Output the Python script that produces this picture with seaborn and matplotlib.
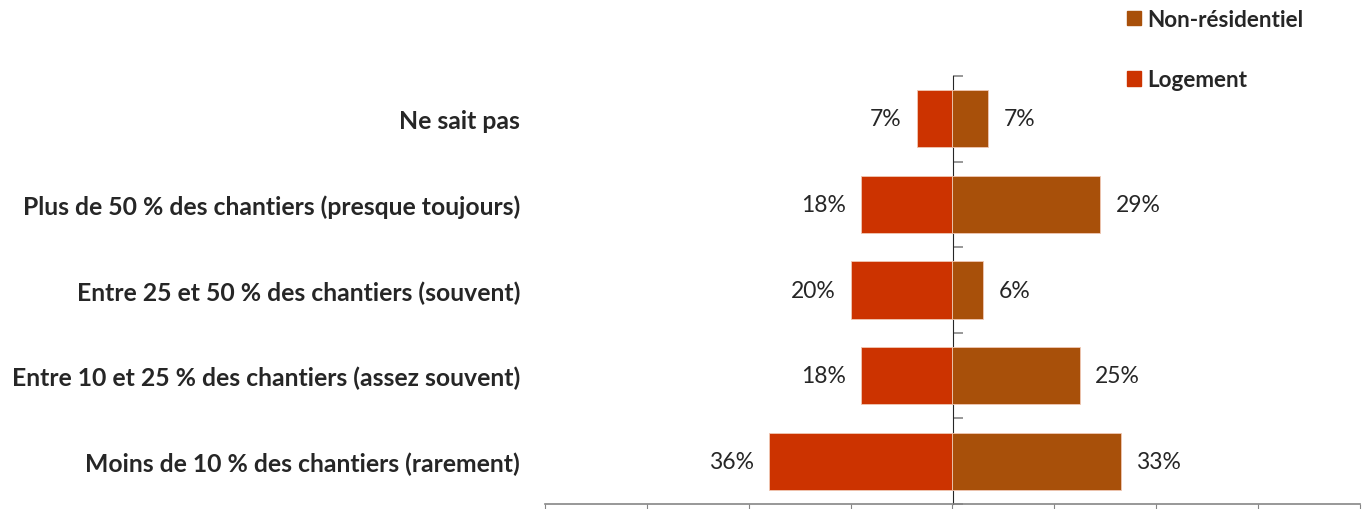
import pandas as pd
import numpy as np
import matplotlib.pyplot as plt
import seaborn as sns
from matplotlib.patches import Patch

# data
categories = [
    "Ne sait pas",
    "Plus de 50 % des chantiers (presque toujours)",
    "Entre 25 et 50 % des chantiers (souvent)",
    "Entre 10 et 25 % des chantiers (assez souvent)",
    "Moins de 10 % des chantiers (rarement)",
]
logement = [0.07, 0.18, 0.20, 0.18, 0.36]
non_residentiel = [0.07, 0.29, 0.06, 0.25, 0.33]
series_names = ["Logement", "Non-résidentiel"]
colors = {"Logement": "#CC3300", "Non-résidentiel": "#A8500A"}

df = pd.DataFrame({
    "cat": categories * 2,
    "val": [-v for v in logement] + non_residentiel,
    "serie": [series_names[0]] * len(categories) + [series_names[1]] * len(categories),
})

sns.set_style("white")
plt.rcParams["font.family"] = ["Lato", "DejaVu Sans"]

fig = plt.figure(figsize=(13.63, 5.10), dpi=100)
ax = fig.add_axes([545 / 1363, 5 / 510, 815 / 1363, 428 / 510])

sns.barplot(data=df, x="val", y="cat", hue="serie", dodge=False,
            palette=colors, saturation=1, width=0.67, orient="h", ax=ax,
            edgecolor="#F0C8B4", linewidth=0.6, legend=False)

ax.set_xlim(-0.8, 0.8)
ax.set_xticks(np.arange(-0.8, 0.81, 0.2))
ax.tick_params(axis="x", direction="out", length=7, color="#868686",
               labelbottom=False, bottom=True)
ax.tick_params(axis="y", length=0, pad=18)
ax.set_xlabel("")
ax.set_ylabel("")
for lab in ax.get_yticklabels():
    lab.set_fontweight("bold")
    lab.set_fontsize(17.8)

for side in ["top", "right", "left"]:
    ax.spines[side].set_visible(False)
ax.spines["bottom"].set_color("#868686")
ax.spines["bottom"].set_linewidth(1.2)

# central category axis at zero
sec = ax.secondary_yaxis(0.5)
sec.set_yticks(np.arange(-0.5, len(categories), 1.0))
sec.set_yticklabels([])
sec.tick_params(direction="out", length=7, color="#868686", width=1.2)
sec.spines["left"].set_color("#868686")
sec.spines["left"].set_linewidth(1.2)

# value labels
for cont, vals in zip(ax.containers, [logement, non_residentiel]):
    ax.bar_label(cont, labels=[f"{v:.0%}" for v in vals], padding=11, fontsize=16.5)

# legend
handles = [Patch(color=colors["Non-résidentiel"], label="Non-résidentiel"),
           Patch(color=colors["Logement"], label="Logement")]
leg = fig.legend(handles=handles, loc="upper left", bbox_to_anchor=(1107 / 1363, 1.02),
                 frameon=False, handlelength=0.6, handleheight=0.6, handletextpad=0.3,
                 labelspacing=1.75, prop={"weight": "bold", "size": 16.2})

plt.savefig("out.png", dpi=100)
